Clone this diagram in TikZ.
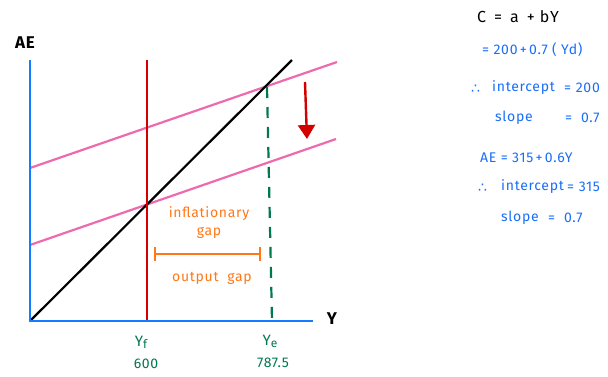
\documentclass[tikz,border=0pt]{standalone}
\usepackage{fontspec}
\setmainfont[LetterSpace=5]{Fira Sans}
\newfontfamily\symfont{DejaVu Sans}
\usetikzlibrary{arrows.meta,calc}
\definecolor{axblue}{RGB}{20,125,255}
\definecolor{txblue}{RGB}{25,110,250}
\definecolor{pinkc}{RGB}{238,106,175}
\definecolor{redc}{RGB}{210,0,0}
\definecolor{greenc}{RGB}{0,120,80}
\definecolor{orangec}{RGB}{255,120,25}
\tikzset{
  axis/.style={draw=axblue, line width=2.6pt},
  curve/.style={line width=2.2pt},
  lbl/.style={inner sep=0pt, font=\fontsize{14}{16}\selectfont},
  eqn/.style={inner sep=0pt, anchor=west, text=txblue, font=\fontsize{14}{16}\selectfont},
}
\begin{document}
\begin{tikzpicture}[x=1pt,y=-1pt]
\useasboundingbox[fill=white] (0,0) rectangle (608,376);
% coordinates
\coordinate (O) at (30,321);
\coordinate (Ytop) at (30,60);
\coordinate (Xend) at (313,321);
\coordinate (B1) at (292,60);
\coordinate (U0) at (30,168);
\coordinate (U1) at (337,62);
\coordinate (L0) at (30,245);
\coordinate (L1) at (336,139);
\coordinate (R0) at (147,60);
\coordinate (R1) at (147,321);
\coordinate (G0) at (267,87);
\coordinate (G1) at (272,321);
\coordinate (A0) at (305,82);
\coordinate (A1) at (307,139);
\coordinate (OG0) at (155,254);
\coordinate (OG1) at (260,254);
% lines
\draw[curve, pinkc] (U0) -- (U1);
\draw[curve, pinkc] (L0) -- (L1);
\draw[curve, black] (O) -- (B1);
\draw[curve, redc] (R0) -- (R1);
\draw[curve, greenc, dash pattern=on 11pt off 9pt] (G0) -- (G1);
\draw[axis] (Ytop) -- (O) -- (Xend);
\draw[redc, line width=2.4pt, -{Triangle[width=17pt,length=14pt]}] (A0) -- (A1);
\draw[orangec, line width=2.4pt] (OG0) -- (OG1);
\draw[orangec, line width=2.4pt] ($(OG0)+(0,-7)$) -- ($(OG0)+(0,7)$);
\draw[orangec, line width=2.4pt] ($(OG1)+(0,-7)$) -- ($(OG1)+(0,7)$);
% axis labels
\node[lbl, font=\fontsize{17}{19}\selectfont\bfseries] (AE) at (25,43) {AE};
\node[lbl, font=\fontsize{17}{19}\selectfont\bfseries] (Ylab) at (332,319) {Y};
\node[lbl, text=orangec] (infl) at (209,214) {inflationary};
\node[lbl, text=orangec] (gap1) at (209,233) {gap};
\node[lbl, text=orangec] (outg) at (212,278) {output\ \ gap};
\node[lbl, text=greenc, font=\fontsize{15}{17}\selectfont] (Yf) at (141,342) {Y\raisebox{-2pt}{\fontsize{12}{14}\selectfont f}};
\node[lbl, text=greenc] (v600) at (146,364) {600};
\node[lbl, text=greenc, font=\fontsize{15}{17}\selectfont] (Ye) at (270,341) {Y\raisebox{-2pt}{\fontsize{12}{14}\selectfont e}};
\node[lbl, text=greenc] (v787) at (273,363) {787.5};
% equations
\node[eqn, text=black, font=\fontsize{16}{18}\selectfont] (e1) at (477,17) {C\enspace=\enspace a\enspace+\ bY};
\node[eqn] (e2) at (482,50) {=\ 200\,+\,0.7\ (\ Yd)};
\node[eqn] (e3s) at (471,89) {\symfont ∴};
\node[eqn] (e3) at (492,88) {intercept};
\node[eqn] (e3b) at (564,88) {=\,\,200};
\node[eqn] (e4) at (495,118) {slope};
\node[eqn] (e4b) at (565,118) {=\ \ 0.7};
\node[eqn] (e5) at (480,158) {AE\ =\ 315\,+\,0.6Y};
\node[eqn] (e6s) at (478,188) {\symfont ∴};
\node[eqn] (e6) at (501,187) {intercept};
\node[eqn] (e6b) at (567,187) {=\,\,315};
\node[eqn] (e7) at (501,218) {slope};
\node[eqn] (e7b) at (548,218) {=\ \ 0.7};
\end{tikzpicture}
\end{document}
